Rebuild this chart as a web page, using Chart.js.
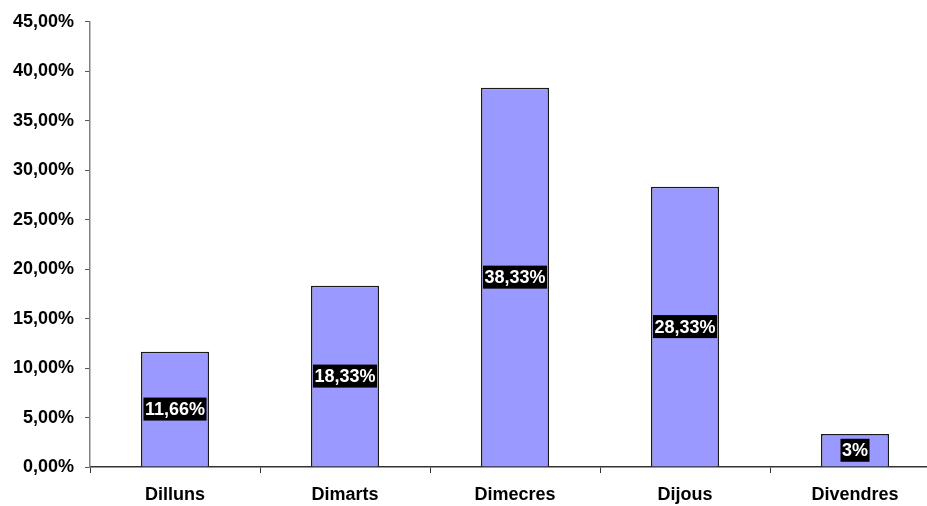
<!DOCTYPE html>
<html>
<head>
<meta charset="utf-8">
<script src="https://cdn.jsdelivr.net/npm/chart.js@4"></script>
<style>
  html, body { margin: 0; padding: 0; overflow: hidden; background: #fff; }
  #wrap { width: 940px; height: 506px; }
</style>
</head>
<body>
<div id="wrap"><canvas id="myChart" width="940" height="506"></canvas></div>
<script>
var dies = ["Dilluns", "Dimarts", "Dimecres", "Dijous", "Divendres"];
var valors = [11.66, 18.33, 38.33, 28.33, 3.33];
var etiquetes = ["11,66%", "18,33%", "38,33%", "28,33%", "3%"];
var marques = [0, 5, 10, 15, 20, 25, 30, 35, 40, 45];

var fontFamily = "'Liberation Sans', Arial, sans-serif";

// black boxes with white text inside each bar
var etiquetaPlugin = {
  id: "etiquetes",
  afterDatasetsDraw: function(chart) {
    var ctx = chart.ctx;
    var meta = chart.getDatasetMeta(0);
    ctx.save();
    ctx.font = "bold 18px " + fontFamily;
    ctx.textAlign = "center";
    ctx.textBaseline = "middle";
    meta.data.forEach(function(bar, i) {
      var txt = etiquetes[i];
      var w = ctx.measureText(txt).width;
      var cy = (bar.y + bar.base) / 2;
      ctx.fillStyle = "#000";
      ctx.fillRect(bar.x - w / 2 - 1.5, cy - 11.5, w + 3, 23);
      ctx.fillStyle = "#fff";
      ctx.fillText(txt, bar.x, cy + 1);
    });
    ctx.restore();
  }
};

var ctx = document.getElementById("myChart").getContext("2d");
var myChart = new Chart(ctx, {
  type: "bar",
  data: {
    labels: dies,
    datasets: [
      {
        data: valors,
        backgroundColor: "#9999FF",
        borderColor: "#1a1a1a",
        borderWidth: 1.5,
        barPercentage: 0.4,
        categoryPercentage: 1.0
      }
    ]
  },
  options: {
    responsive: false,
    animation: false,
    layout: { padding: { top: 20, right: 0, left: 0, bottom: 0 } },
    plugins: {
      legend: { display: false },
      tooltip: { enabled: false }
    },
    scales: {
      x: {
        grid: {
          offset: true,
          drawOnChartArea: false,
          tickLength: 6,
          tickColor: "#333",
          color: "#333"
        },
        border: { color: "#333", width: 1.5 },
        ticks: {
          color: "#000",
          padding: 11,
          font: { family: fontFamily, size: 18, weight: "bold" }
        },
        afterFit: function(scale) { scale.height = 39; }
      },
      y: {
        min: 0,
        max: 45,
        afterBuildTicks: function(scale) {
          scale.ticks = marques.map(function(v) { return { value: v }; });
        },
        grid: {
          drawOnChartArea: false,
          tickLength: 5,
          tickColor: "#555",
          color: "#555"
        },
        border: { color: "#808080", width: 1.5 },
        ticks: {
          color: "#000",
          padding: 11,
          font: { family: fontFamily, size: 18, weight: "bold" },
          callback: function(v) { return v.toFixed(2).replace(".", ",") + "%"; }
        },
        afterFit: function(scale) { scale.width = 90; }
      }
    }
  },
  plugins: [etiquetaPlugin]
});
</script>
</body>
</html>
